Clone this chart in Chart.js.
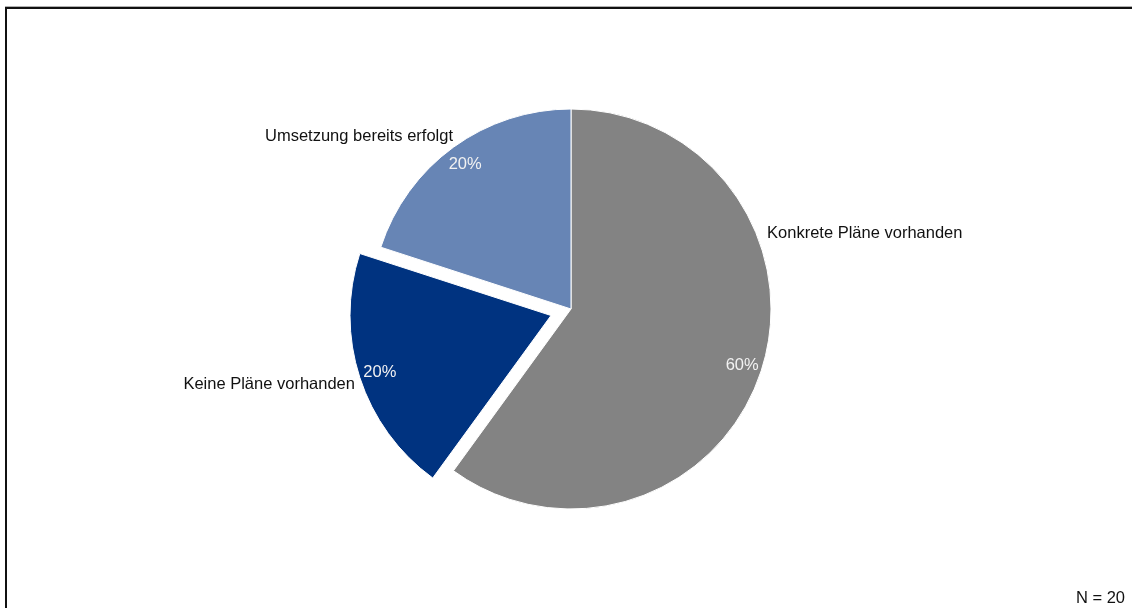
<!DOCTYPE html>
<html lang="de">
<head>
<meta charset="utf-8">
<title>Umsetzungsstand</title>
<script src="https://cdn.jsdelivr.net/npm/chart.js@4.4.0/dist/chart.umd.min.js"></script>
<style>
    html, body { margin: 0; padding: 0; background: #fff; }
    #wrap { position: relative; width: 1132px; height: 608px; overflow: hidden; }
    #frame {
        position: absolute; left: 5px; top: 7px; width: 1200px; height: 700px;
        border-top: 2px solid #111; border-left: 2px solid #111;
        box-shadow: 0 -1px 0 #b0b0b0;
    }
    #chart { position: absolute; left: 0; top: 0; }
</style>
</head>
<body>
<div id="wrap">
    <div id="frame"></div>
    <canvas id="chart" width="1132" height="608"></canvas>
</div>
<script>
// Antworten (Anteile in %), Start oben, im Uhrzeigersinn
const categories = ['Konkrete Pläne vorhanden', 'Keine Pläne vorhanden', 'Umsetzung bereits erfolgt'];
const shares = [60, 20, 20];
const sliceColors = ['#838383', '#003380', '#6785b5'];
const sampleNote = 'N = 20';

const FONT = '16.5px "Liberation Sans", Arial, sans-serif';

// Beschriftungen: Kategorie außen, Prozentwert innen
const sliceLabels = {
    id: 'sliceLabels',
    afterDatasetsDraw(chart, args, opts) {
        const ctx = chart.ctx;
        const meta = chart.getDatasetMeta(0);
        const ds = chart.data.datasets[0];
        ctx.save();
        ctx.font = FONT;
        ctx.textBaseline = 'middle';
        meta.data.forEach((arc, i) => {
            const p = arc.getProps(['x', 'y', 'startAngle', 'endAngle', 'outerRadius'], true);
            const mid = (p.startAngle + p.endAngle) / 2;
            const shift = (ds.offset[i] || 0) / 4;
            const cx = p.x + Math.cos(mid) * shift;
            const cy = p.y + Math.sin(mid) * shift;
            const r = p.outerRadius;

            // Prozentwert
            ctx.fillStyle = '#f2f2f2';
            ctx.textAlign = 'center';
            ctx.fillText(shares[i] + '%', cx + Math.cos(mid) * r * 0.9, cy + Math.sin(mid) * r * 0.9 + 1);

            // Kategoriename
            const a = opts.angles[i] != null ? (opts.angles[i] - 90) * Math.PI / 180 : mid;
            const k = opts.dist[i];
            const lx = cx + Math.cos(a) * r * k;
            const ly = cy + Math.sin(a) * r * k;
            ctx.fillStyle = '#111';
            ctx.textAlign = Math.cos(a) >= 0 ? 'left' : 'right';
            ctx.fillText(categories[i], lx, ly);
        });

        ctx.textAlign = 'right';
        ctx.fillStyle = '#111';
        ctx.fillText(sampleNote, chart.width - 7, chart.height - 10);
        ctx.restore();
    }
};

new Chart(document.getElementById('chart'), {
    type: 'pie',
    data: {
        labels: categories,
        datasets: [{
            data: shares,
            backgroundColor: sliceColors,
            borderColor: '#ffffff',
            borderWidth: 1,
            offset: [0, 84, 0]
        }]
    },
    options: {
        responsive: false,
        animation: false,
        radius: 200,
        layout: { padding: { left: 10, top: 10 } },
        plugins: {
            legend: { display: false },
            tooltip: { enabled: false },
            sliceLabels: { angles: [69, 250.5, 325.7], dist: [1.05, 1.04, 1.047] }
        }
    },
    plugins: [sliceLabels]
});
</script>
</body>
</html>
